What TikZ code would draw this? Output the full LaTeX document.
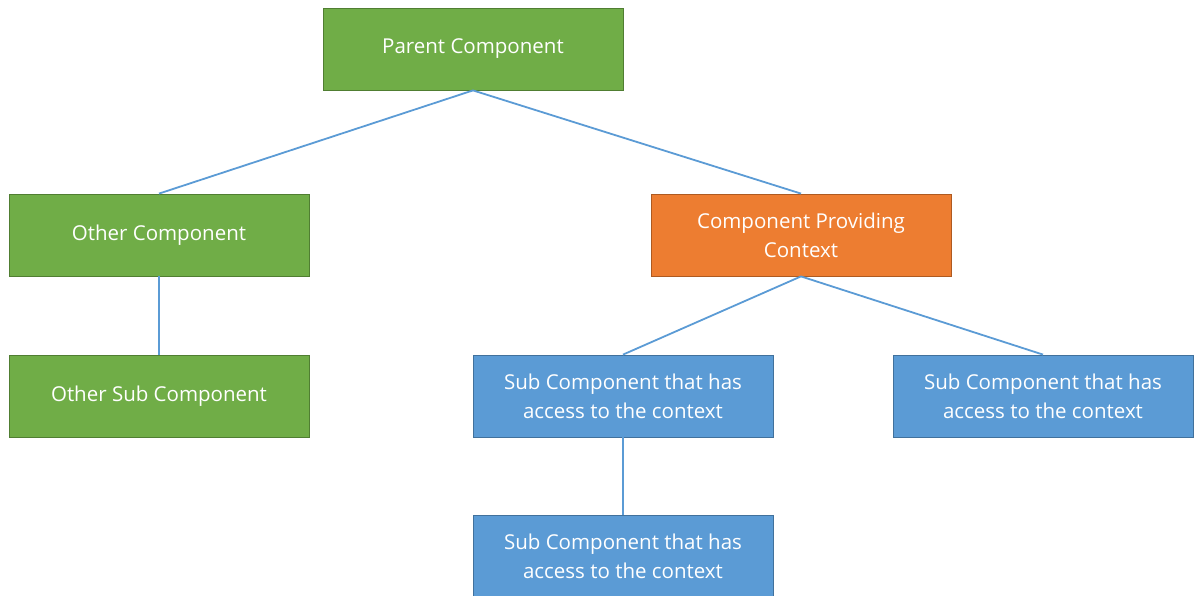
\documentclass[tikz,border=0pt]{standalone}
\usepackage{fontspec}
\setmainfont{Open Sans}
\definecolor{gfill}{HTML}{70AD47}
\definecolor{gdraw}{HTML}{507E32}
\definecolor{ofill}{HTML}{ED7D31}
\definecolor{odraw}{HTML}{AE5A21}
\definecolor{bfill}{HTML}{5B9BD5}
\definecolor{bdraw}{HTML}{41719C}
\definecolor{link}{HTML}{5B9BD5}
\begin{document}
\begin{tikzpicture}[x=1pt,y=-1pt,
  box/.style={minimum width=300pt,minimum height=82pt,inner sep=0pt,text=white,
    font=\fontsize{20.5}{29}\selectfont,align=center,line width=0.8pt},
  gbox/.style={box,fill=gfill,draw=gdraw},
  obox/.style={box,fill=ofill,draw=odraw},
  bbox/.style={box,fill=bfill,draw=bdraw},
  conn/.style={draw=link,line width=1.8pt}]
\useasboundingbox (0,0) rectangle (1195,596);
\node[gbox] (parent) at (473,49) {Parent Component};
\node[gbox] (other) at (159,235) {Other Component};
\node[obox] (cpc) at (801,235) {Component Providing\\Context};
\node[gbox] (othersub) at (159,396) {Other Sub Component};
\node[bbox] (sub1) at (623,396) {Sub Component that has\\access to the context};
\node[bbox] (sub2) at (1043,396) {Sub Component that has\\access to the context};
\node[bbox] (sub3) at (623,556) {Sub Component that has\\access to the context};
\draw[conn] (parent.south) -- (other.north);
\draw[conn] (parent.south) -- (cpc.north);
\draw[conn] (other.south) -- (othersub.north);
\draw[conn] (cpc.south) -- (sub1.north);
\draw[conn] (cpc.south) -- (sub2.north);
\draw[conn] (sub1.south) -- (sub3.north);
\end{tikzpicture}
\end{document}
